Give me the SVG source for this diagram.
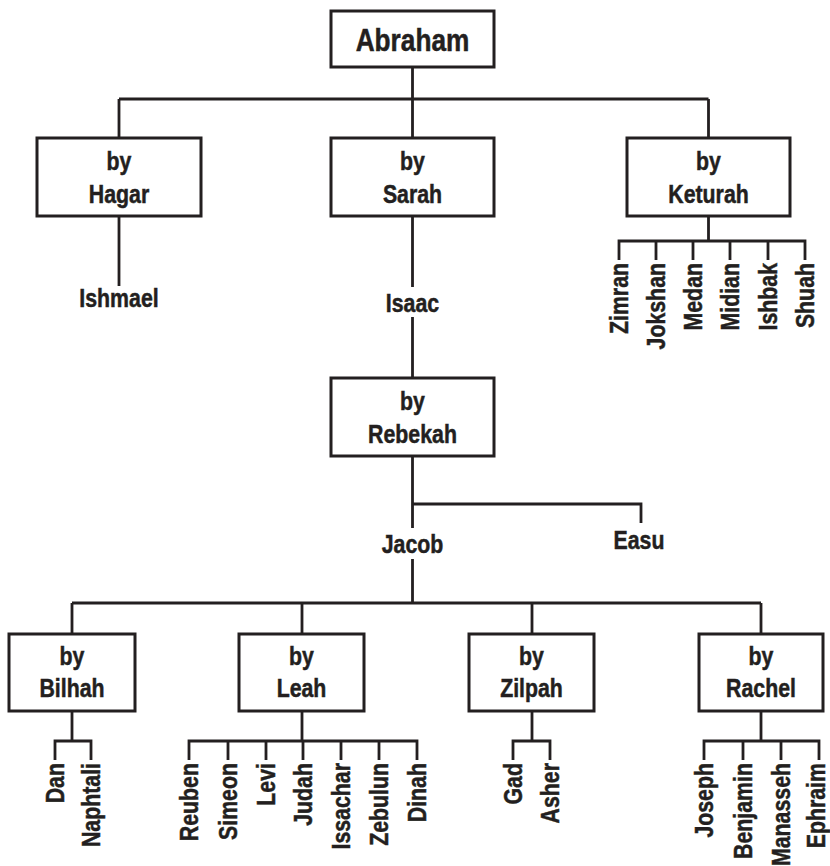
<svg xmlns="http://www.w3.org/2000/svg" width="830" height="866" viewBox="0 0 830 866">
<style>
.box{fill:#fff;stroke:#231f20;stroke-width:3}
.ln{fill:none;stroke:#231f20;stroke-width:2.8;stroke-linecap:butt;stroke-linejoin:miter}
text{font-family:"Liberation Sans Narrow","Liberation Sans",Arial,sans-serif;font-weight:bold;fill:#231f20;stroke:#231f20;stroke-width:0.5;font-size:26px}
.c{text-anchor:middle}
.v{text-anchor:end}
.big{font-size:32px}
</style>
<rect width="830" height="866" fill="#fff"/>
<g id="connectors">
<path class="ln" d="M412.5,67 V99 M119,99 H708.5 M119,99 V138 M412.5,99 V138 M708.5,99 V138"/>
<path class="ln" d="M119,216 V286"/>
<path class="ln" d="M412.5,216 V287 M412.5,317 V378"/>
<path class="ln" d="M708.5,216 V241 M619,260 V241 H805 V260 M656,241 V260 M693,241 V260 M730,241 V260 M768,241 V260"/>
<path class="ln" d="M412.5,456 V528 M412.5,504 H641 V523"/>
<path class="ln" d="M412.5,559 V603 M72,603 H761 M72,603 V634 M302,603 V634 M532,603 V634 M761,603 V634"/>
<path class="ln" d="M72,711 V741 M55,760 V741 H91 V760"/>
<path class="ln" d="M302,711 V741 M189,760 V741 H417 V760 M228,741 V760 M266,741 V760 M303,741 V760 M341,741 V760 M379,741 V760"/>
<path class="ln" d="M532,711 V741 M513,760 V741 H550 V760"/>
<path class="ln" d="M761,711 V741 M704,760 V741 H819 V760 M743,741 V760 M781,741 V760"/>
</g>
<g id="abraham"><rect class="box" x="331" y="11" width="163" height="56"/><text class="c big" transform="translate(412.5,51) scale(0.82,1)">Abraham</text></g>
<g id="hagar"><rect class="box" x="37" y="138" width="164" height="78"/><text class="c" transform="translate(119,170) scale(0.82,1)">by</text><text class="c" transform="translate(119,203) scale(0.82,1)">Hagar</text></g>
<g id="sarah"><rect class="box" x="331" y="138" width="163" height="78"/><text class="c" transform="translate(412.5,170) scale(0.82,1)">by</text><text class="c" transform="translate(412.5,203) scale(0.82,1)">Sarah</text></g>
<g id="keturah"><rect class="box" x="627" y="138" width="163" height="78"/><text class="c" transform="translate(708.5,170) scale(0.82,1)">by</text><text class="c" transform="translate(708.5,203) scale(0.82,1)">Keturah</text></g>
<g id="ishmael"><text class="c" transform="translate(119,307) scale(0.82,1)">Ishmael</text></g>
<g id="isaac"><text class="c" transform="translate(412.5,312) scale(0.82,1)">Isaac</text></g>
<g id="keturah-children">
<text class="v" transform="translate(628,263) rotate(-90) scale(0.82,1)">Zimran</text>
<text class="v" transform="translate(665,263) rotate(-90) scale(0.82,1)">Jokshan</text>
<text class="v" transform="translate(702,263) rotate(-90) scale(0.82,1)">Medan</text>
<text class="v" transform="translate(739,263) rotate(-90) scale(0.82,1)">Midian</text>
<text class="v" transform="translate(777,263) rotate(-90) scale(0.82,1)">Ishbak</text>
<text class="v" transform="translate(814,263) rotate(-90) scale(0.82,1)">Shuah</text>
</g>
<g id="rebekah"><rect class="box" x="331" y="378" width="163" height="78"/><text class="c" transform="translate(412.5,410) scale(0.82,1)">by</text><text class="c" transform="translate(412.5,443) scale(0.82,1)">Rebekah</text></g>
<g id="jacob"><text class="c" transform="translate(412.5,553) scale(0.82,1)">Jacob</text></g>
<g id="easu"><text class="c" transform="translate(639,549) scale(0.82,1)">Easu</text></g>
<g id="bilhah"><rect class="box" x="9" y="634" width="126" height="77"/><text class="c" transform="translate(72,665) scale(0.82,1)">by</text><text class="c" transform="translate(72,697) scale(0.82,1)">Bilhah</text></g>
<g id="leah"><rect class="box" x="239" y="634" width="125" height="77"/><text class="c" transform="translate(301.5,665) scale(0.82,1)">by</text><text class="c" transform="translate(301.5,697) scale(0.82,1)">Leah</text></g>
<g id="zilpah"><rect class="box" x="469" y="634" width="125" height="77"/><text class="c" transform="translate(531.5,665) scale(0.82,1)">by</text><text class="c" transform="translate(531.5,697) scale(0.82,1)">Zilpah</text></g>
<g id="rachel"><rect class="box" x="699" y="634" width="124" height="77"/><text class="c" transform="translate(761,665) scale(0.82,1)">by</text><text class="c" transform="translate(761,697) scale(0.82,1)">Rachel</text></g>
<g id="bilhah-children">
<text class="v" transform="translate(64,763) rotate(-90) scale(0.82,1)">Dan</text>
<text class="v" transform="translate(100,763) rotate(-90) scale(0.82,1)">Naphtali</text>
</g>
<g id="leah-children">
<text class="v" transform="translate(198,763) rotate(-90) scale(0.82,1)">Reuben</text>
<text class="v" transform="translate(237,763) rotate(-90) scale(0.82,1)">Simeon</text>
<text class="v" transform="translate(275,763) rotate(-90) scale(0.82,1)">Levi</text>
<text class="v" transform="translate(312,763) rotate(-90) scale(0.82,1)">Judah</text>
<text class="v" transform="translate(350,763) rotate(-90) scale(0.82,1)">Issachar</text>
<text class="v" transform="translate(388,763) rotate(-90) scale(0.82,1)">Zebulun</text>
<text class="v" transform="translate(426,763) rotate(-90) scale(0.82,1)">Dinah</text>
</g>
<g id="zilpah-children">
<text class="v" transform="translate(522,763) rotate(-90) scale(0.82,1)">Gad</text>
<text class="v" transform="translate(559,763) rotate(-90) scale(0.82,1)">Asher</text>
</g>
<g id="rachel-children">
<text class="v" transform="translate(713,763) rotate(-90) scale(0.82,1)">Joseph</text>
<text class="v" transform="translate(752,763) rotate(-90) scale(0.82,1)">Benjamin</text>
<text class="v" transform="translate(790,763) rotate(-90) scale(0.82,1)">Manasseh</text>
<text class="v" transform="translate(825,763) rotate(-90) scale(0.82,1)">Ephraim</text>
</g>
</svg>
